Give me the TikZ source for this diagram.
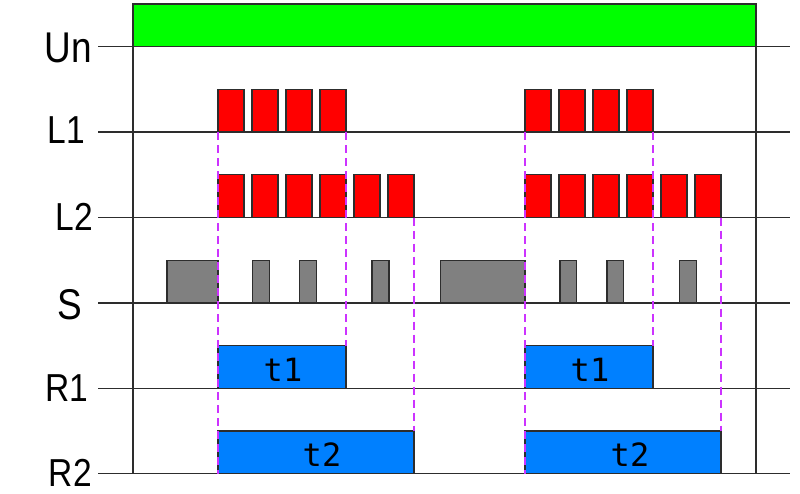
\documentclass[tikz,border=0pt]{standalone}
\usepackage{fontspec}
\setmainfont{Liberation Sans}
\newfontfamily\tfont{DejaVu Sans Mono}
\definecolor{axisgray}{RGB}{45,45,45}
\definecolor{dashmag}{RGB}{204,51,255}
\definecolor{pgreen}{RGB}{0,255,0}
\definecolor{pred}{RGB}{255,0,0}
\definecolor{pgray}{RGB}{128,128,128}
\definecolor{pblue}{RGB}{0,128,255}
\newcommand\narrowtext[1]{\scalebox{0.86}[1]{#1}}
\begin{document}
\begin{tikzpicture}[x=1pt,y=-1pt,
  axisline/.style={line width=1.3pt, draw=axisgray},
  pulsebox/.style={line width=1.1pt, draw=axisgray},
  redpulse/.style={pulsebox, fill=pred},
  graypulse/.style={pulsebox, fill=pgray},
  bluepulse/.style={pulsebox, fill=pblue},
  greenpulse/.style={pulsebox, fill=pgreen},
  guide/.style={line width=1.1pt, draw=dashmag, dash pattern=on 8pt off 5pt},
  siglabel/.style={inner sep=0pt, anchor=base east, text depth=0pt, font=\fontsize{39}{39}\selectfont},
  biglabel/.style={inner sep=0pt, anchor=base east, text depth=0pt, font=\fontsize{43}{43}\selectfont},
  timelabel/.style={inner sep=0pt, anchor=base, font=\tfont\fontsize{32}{32}\selectfont}]
\useasboundingbox[fill=white] (0,0) rectangle (800,493);
% pulse helper: style, x1, x2, baseline y
\newcommand\pulseat[4]{\draw[#1] (#2,#4) rectangle (#3,#4-42.7);}
% green supply
\pulseat{greenpulse}{133}{756}{46.7}
% L1 pulses
\foreach \s in {218,252,286,320,525,559,593,627}{\pulseat{redpulse}{\s}{\s+26}{132}}
% L2 pulses
\foreach \s in {218,252,286,320,354,388,525,559,593,627,661,695}{\pulseat{redpulse}{\s}{\s+26}{217.5}}
% S pulses
\pulseat{graypulse}{167}{218}{303}
\pulseat{graypulse}{252.3}{269.3}{303}
\pulseat{graypulse}{299.3}{316.3}{303}
\pulseat{graypulse}{372}{389}{303}
\pulseat{graypulse}{440.3}{525}{303}
\pulseat{graypulse}{560}{576.7}{303}
\pulseat{graypulse}{607}{623.7}{303}
\pulseat{graypulse}{679.3}{696.3}{303}
% R1 / R2
\pulseat{bluepulse}{218}{346}{388.3}
\pulseat{bluepulse}{525}{653}{388.3}
\pulseat{bluepulse}{218}{414}{473.7}
\pulseat{bluepulse}{525}{721}{473.7}
% axes
\foreach \yy in {46.7,132,217.5,303,388.3,473.7}{\draw[axisline] (98,\yy) -- (790,\yy);}
\draw[axisline] (133,4) -- (133,473.7);
\draw[axisline] (756,4) -- (756,473.7);
% guides
\foreach \xx in {218,525}{\draw[guide] (\xx,132) -- (\xx,473.7);}
\foreach \xx in {346,653}{\draw[guide] (\xx,132) -- (\xx,345.6);}
\foreach \xx in {414,721}{\draw[guide] (\xx,217.5) -- (\xx,431);}
% labels
\node[biglabel] (lUn) at (92,62.7) {\narrowtext{Un}};
\node[siglabel] (lL1) at (85.5,143.5) {\narrowtext{L1}};
\node[siglabel] (lL2) at (93.5,230) {\narrowtext{L2}};
\node[biglabel] (lS) at (82,319.5) {\narrowtext{S}};
\node[siglabel] (lR1) at (88.5,401) {\narrowtext{R1}};
\node[siglabel] (lR2) at (92,486.5) {\narrowtext{R2}};
\node[timelabel] (ta1) at (283,381.7) {t1};
\node[timelabel] (ta2) at (322,466.7) {t2};
\node[timelabel] (tb1) at (590,381.7) {t1};
\node[timelabel] (tb2) at (630,466.7) {t2};
\end{tikzpicture}
\end{document}
